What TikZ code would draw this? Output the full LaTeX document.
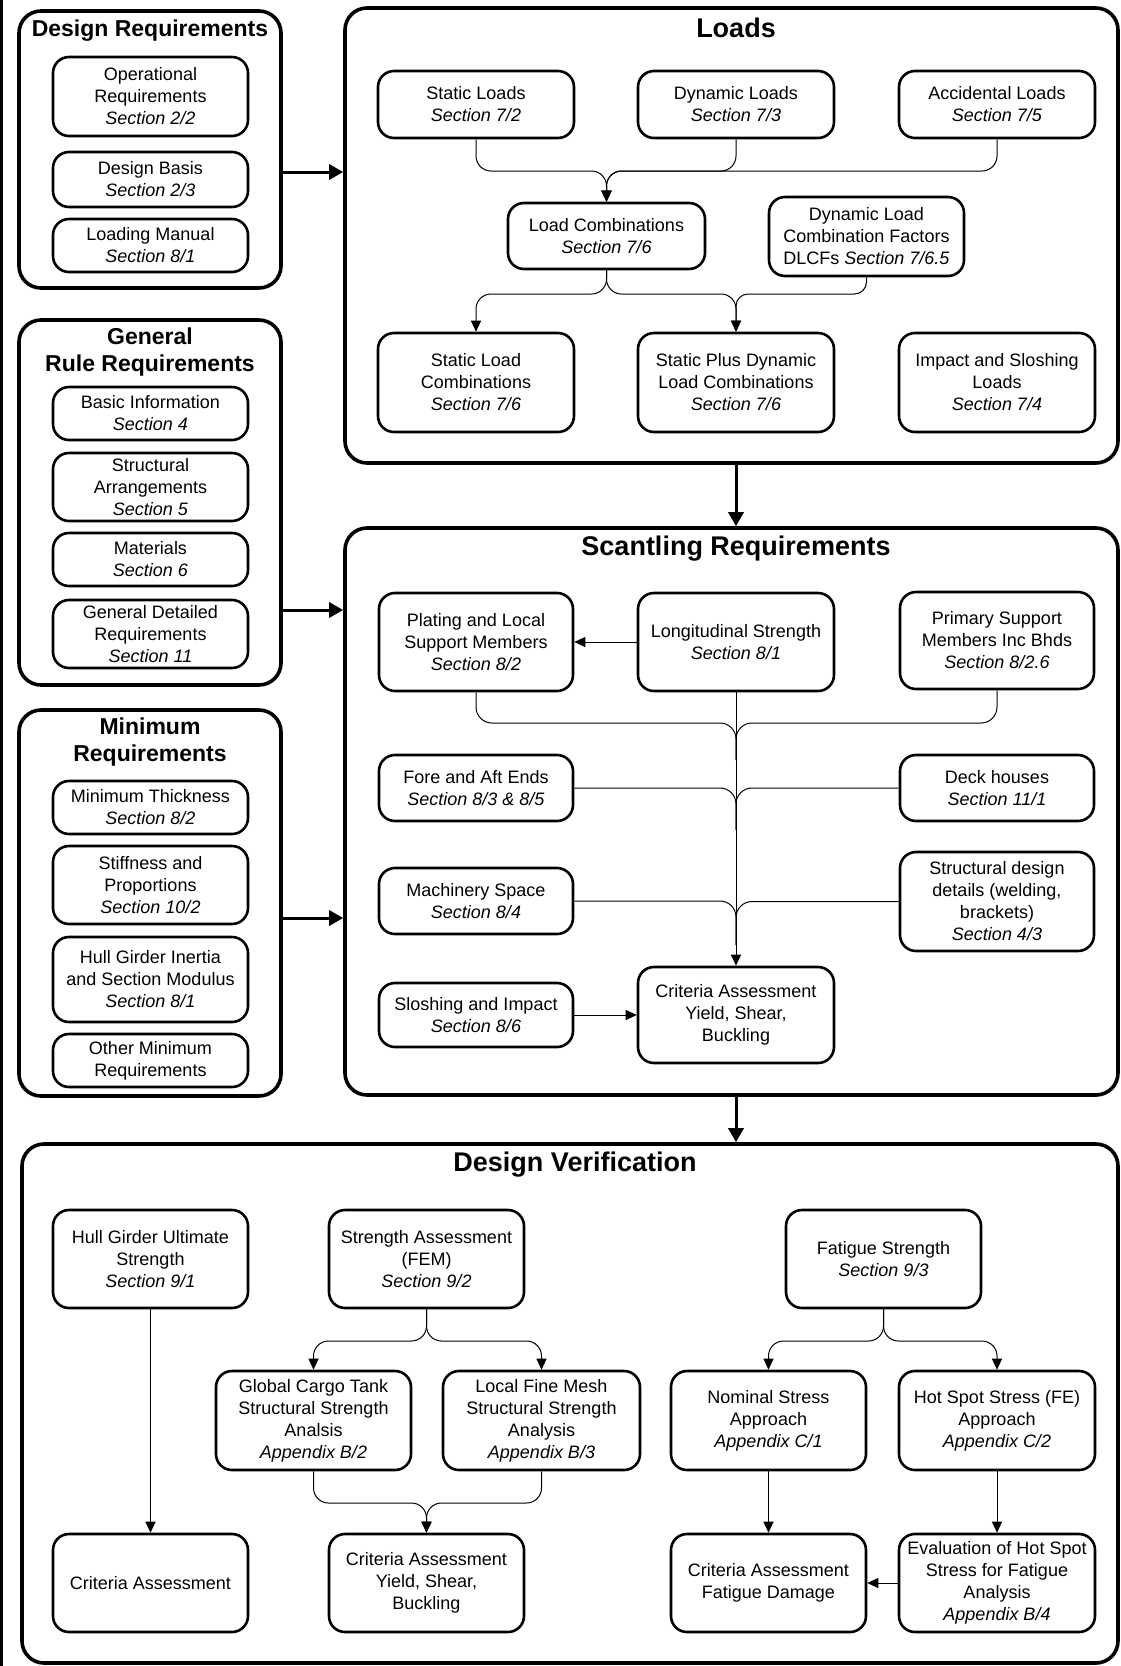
\documentclass[tikz,border=0pt]{standalone}
\usepackage{fontspec}
\setmainfont{Liberation Sans}
\usetikzlibrary{arrows.meta}
\newcommand\mybox[7][ibox]{\node[#1, minimum width={#5-#3}, minimum height={#6-#4}] (#2) at ({(#3+#5)/2},{(#4+#6)/2}) {#7};}
\begin{document}
\begin{tikzpicture}[x=1pt,y=-1pt,
  ibox/.style={draw, line width=2.6pt, rounded corners=16pt, align=center, inner sep=0pt, font=\fontsize{18}{22}\selectfont},
  obox/.style={draw, line width=3.6pt, rounded corners=22pt, inner sep=0pt},
  ttl/.style={font=\fontsize{23}{27}\selectfont\bfseries, align=center},
  bigttl/.style={font=\fontsize{27}{32}\selectfont\bfseries},
  conn/.style={line width=1pt, -{Triangle[length=11pt,width=10pt]}},
  plain/.style={line width=1pt},
  rc/.style={rounded corners=15pt},
  major/.style={line width=3pt, -{Triangle[length=14pt,width=15pt]}},
]
\useasboundingbox (0,0) rectangle (1120,1666);
\fill[white] (0,0) rectangle (1120,1666);
\fill[black] (0,0) rectangle (2.5,1666);

% ---------- outer boxes ----------
\mybox[obox]{dr}{19}{11}{281}{288}{}
\mybox[obox]{grr}{19}{320}{281}{685}{}
\mybox[obox]{minr}{19}{710}{281}{1096}{}
\mybox[obox]{loads}{345}{8}{1118}{463}{}
\mybox[obox]{scant}{345}{528}{1118}{1095}{}
\mybox[obox]{dv}{22}{1144}{1118}{1663}{}

% ---------- titles ----------
\node[ttl] (tdr) at (150,31) {Design Requirements};
\node[ttl] (tgrr) at (150,352) {General\\Rule Requirements};
\node[ttl] (tminr) at (150,742) {Minimum\\Requirements};
\node[bigttl] (tloads) at (736,28) {Loads};
\node[bigttl] (tscant) at (736,549) {Scantling Requirements};
\node[bigttl] (tdv) at (575,1165) {Design Verification};

% ---------- left column ----------
\mybox{op}{53}{57}{248}{136}{Operational\\Requirements\\\textit{Section 2/2}}
\mybox{db}{53}{152}{248}{207}{Design Basis\\\textit{Section 2/3}}
\mybox{lm}{53}{219}{248}{272}{Loading Manual\\\textit{Section 8/1}}

\mybox{bi}{53}{387}{248}{440}{Basic Information\\\textit{Section 4}}
\mybox{sarr}{53}{453}{248}{521}{Structural\\Arrangements\\\textit{Section 5}}
\mybox{mat}{53}{533}{248}{586}{Materials\\\textit{Section 6}}
\mybox{gdr}{53}{600}{248}{668}{General Detailed\\Requirements\\\textit{Section 11}}

\mybox{mt}{53}{781}{248}{834}{Minimum Thickness\\\textit{Section 8/2}}
\mybox{sp}{53}{846}{248}{924}{Stiffness and\\Proportions\\\textit{Section 10/2}}
\mybox{hgi}{53}{937}{248}{1022}{Hull Girder Inertia\\and Section Modulus\\\textit{Section 8/1}}
\mybox{omr}{53}{1034}{248}{1087}{Other Minimum\\Requirements}

% ---------- loads ----------
\mybox{sl}{378}{71}{574}{138}{Static Loads\\\textit{Section 7/2}}
\mybox{dl}{638}{71}{834}{138}{Dynamic Loads\\\textit{Section 7/3}}
\mybox{al}{899}{71}{1095}{138}{Accidental Loads\\\textit{Section 7/5}}
\mybox{lc}{508}{203}{705}{269}{Load Combinations\\\textit{Section 7/6}}
\mybox{dlcf}{769}{197}{964}{276}{Dynamic Load\\Combination Factors\\DLCFs \textit{Section 7/6.5}}
\mybox{slc}{378}{333}{574}{432}{Static Load\\Combinations\\\textit{Section 7/6}}
\mybox{spd}{638}{333}{834}{432}{Static Plus Dynamic\\Load Combinations\\\textit{Section 7/6}}
\mybox{isl}{899}{333}{1095}{432}{Impact and Sloshing\\Loads\\\textit{Section 7/4}}

% ---------- scantling ----------
\mybox{pl}{379}{593}{573}{691}{Plating and Local\\Support Members\\\textit{Section 8/2}}
\mybox{ls}{638}{593}{834}{691}{Longitudinal Strength\\\textit{Section 8/1}}
\mybox{ps}{900}{592}{1094}{689}{Primary Support\\Members Inc Bhds\\\textit{Section 8/2.6}}
\mybox{fa}{379}{755}{573}{821}{Fore and Aft Ends\\\textit{Section 8/3 \& 8/5}}
\mybox{dh}{900}{755}{1094}{821}{Deck houses\\\textit{Section 11/1}}
\mybox{ms}{379}{868}{573}{934}{Machinery Space\\\textit{Section 8/4}}
\mybox{sd}{900}{852}{1094}{951}{Structural design\\details (welding,\\brackets)\\\textit{Section 4/3}}
\mybox{si}{379}{983}{573}{1047}{Sloshing and Impact\\\textit{Section 8/6}}
\mybox{cr}{638}{967}{834}{1063}{Criteria Assessment\\Yield, Shear,\\Buckling}

% ---------- design verification ----------
\mybox{hu}{53}{1210}{248}{1308}{Hull Girder Ultimate\\Strength\\\textit{Section 9/1}}
\mybox{sfem}{329}{1210}{524}{1308}{Strength Assessment\\(FEM)\\\textit{Section 9/2}}
\mybox{fs}{786}{1210}{981}{1308}{Fatigue Strength\\\textit{Section 9/3}}
\mybox{gc}{216}{1371}{411}{1470}{Global Cargo Tank\\Structural Strength\\Analsis\\\textit{Appendix B/2}}
\mybox{lf}{443}{1371}{640}{1470}{Local Fine Mesh\\Structural Strength\\Analysis\\\textit{Appendix B/3}}
\mybox{ns}{671}{1371}{866}{1470}{Nominal Stress\\Approach\\\textit{Appendix C/1}}
\mybox{hs}{899}{1371}{1095}{1470}{Hot Spot Stress (FE)\\Approach\\\textit{Appendix C/2}}
\mybox{ca}{53}{1534}{248}{1632}{Criteria Assessment}
\mybox{cy}{329}{1534}{524}{1632}{Criteria Assessment\\Yield, Shear,\\Buckling}
\mybox{cf}{671}{1534}{866}{1632}{Criteria Assessment\\Fatigue Damage}
\mybox{ev}{899}{1534}{1095}{1632}{Evaluation of Hot Spot\\Stress for Fatigue\\Analysis\\\textit{Appendix B/4}}

% ---------- major arrows ----------
\coordinate (ya) at (0,172);
\coordinate (yb) at (0,610);
\coordinate (yc) at (0,918);
\coordinate (xa) at (736,0);
\draw[major] (dr.east |- ya) -- (loads.west |- ya);
\draw[major] (grr.east |- yb) -- (scant.west |- yb);
\draw[major] (minr.east |- yc) -- (scant.west |- yc);
\draw[major] (loads.south -| xa) -- (scant.north -| xa);
\draw[major] (scant.south -| xa) -- (dv.north -| xa);

% ---------- loads connectors ----------
\draw[conn, rc] (sl.south) |- (606.5,171) -- (lc.north);
\draw[conn, rc] (dl.south) |- (606.5,171) -- (lc.north);
\draw[conn, rc] (al.south) |- (606.5,171) -- (lc.north);
\draw[conn, rc] (lc.south) |- (476,294) -- (slc.north);
\draw[conn, rc] (lc.south) |- (736,294) -- (spd.north);
\draw[conn, rounded corners=12pt] (dlcf.south) |- (736,294) -- (spd.north);

% ---------- scantling connectors ----------
\draw[conn] (ls.west) -- (pl.east);
\draw[conn] (ls.south) -- (cr.north);
\draw[plain, rounded corners=16pt] (pl.south) |- (736,723) -- (736,760);
\draw[plain, rounded corners=16pt] (ps.south) |- (736,723) -- (736,760);
\draw[plain, rounded corners=16pt] (fa.east) -| (736,830);
\draw[plain, rounded corners=16pt] (dh.west) -| (736,830);
\draw[plain, rounded corners=16pt] (ms.east) -| (736,945);
\draw[plain, rounded corners=16pt] (sd.west) -| (736,945);
\draw[conn] (si.east) -- (cr.west);

% ---------- verification connectors ----------
\draw[conn] (hu.south) -- (ca.north);
\draw[conn, rc] (sfem.south) |- (313.5,1341) -- (gc.north);
\draw[conn, rc] (sfem.south) |- (541.5,1341) -- (lf.north);
\draw[conn, rc] (gc.south) |- (426.5,1503) -- (cy.north);
\draw[conn, rc] (lf.south) |- (426.5,1503) -- (cy.north);
\draw[conn, rc] (fs.south) |- (768.5,1341) -- (ns.north);
\draw[conn, rc] (fs.south) |- (997,1341) -- (hs.north);
\draw[conn] (ns.south) -- (cf.north);
\draw[conn] (hs.south) -- (ev.north);
\draw[conn] (ev.west) -- (cf.east);
\end{tikzpicture}
\end{document}
